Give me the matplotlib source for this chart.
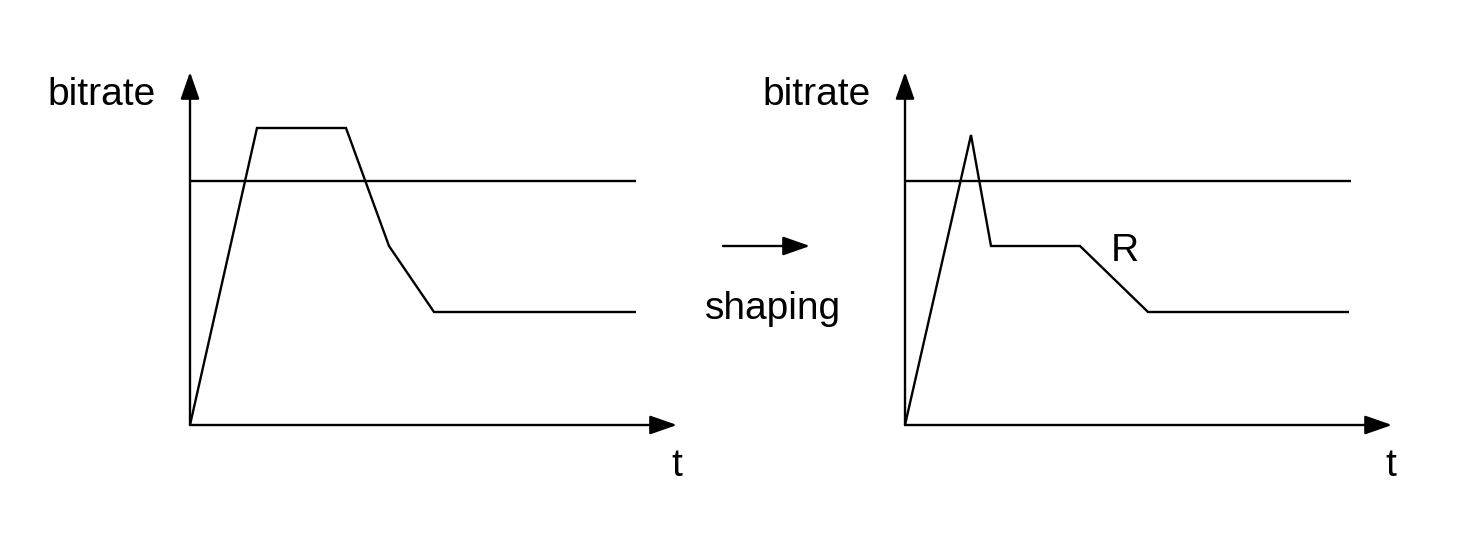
import matplotlib
matplotlib.use("Agg")
import matplotlib.pyplot as plt

# ---- data (arbitrary units) ----
left_t = [0, 6.7, 15.6, 19.9, 24.4, 44.6]
left_rate = [0, 29.7, 29.7, 17.9, 11.3, 11.3]
right_t = [0, 6.6, 8.6, 17.5, 24.3, 44.4]
right_rate = [0, 29.0, 17.9, 17.9, 11.3, 11.3]
threshold = 24.4
t_end = 44.6
x_max = 48.7
y_max = 35.3

W, H = 1482, 538
plt.rcParams['font.family'] = ['Liberation Sans', 'DejaVu Sans']
fig = plt.figure(figsize=(W / 100, H / 100), dpi=100)

LW = 1.7
FS = 28
arrow_style = '-|>,head_length=1.66,head_width=0.58'


def make_panel(x0px, t, rate):
    ax = fig.add_axes([x0px / W, (H - 425) / H, 487 / W, 353 / H])
    ax.set_xlim(0, x_max)
    ax.set_ylim(0, y_max)
    ax.axis('off')
    # axes arrows
    ax.annotate('', xy=(1, 0), xytext=(0, 0), xycoords='axes fraction',
                arrowprops=dict(arrowstyle=arrow_style, mutation_scale=10,
                                lw=LW, color='black', shrinkA=0, shrinkB=0))
    ax.annotate('', xy=(0, 1), xytext=(0, 0), xycoords='axes fraction',
                arrowprops=dict(arrowstyle=arrow_style, mutation_scale=10,
                                lw=LW, color='black', shrinkA=0, shrinkB=0))
    ax.plot([0, t_end], [threshold, threshold], color='black', lw=LW,
            clip_on=False, solid_capstyle='butt')
    ax.plot(t, rate, color='black', lw=LW, clip_on=False,
            solid_joinstyle='miter', solid_capstyle='butt')
    return ax


axL = make_panel(190, left_t, left_rate)
axR = make_panel(905, right_t, right_rate)


def ftext(xpx, ypx, s):
    fig.text(xpx / W, 1 - ypx / H, s, ha='center', va='baseline',
             fontsize=FS, color='black')


ftext(101.5, 105, 'bitrate')
ftext(816.5, 105, 'bitrate')
ftext(677, 476, 't')
ftext(1391, 476, 't')
ftext(773, 319, 'shaping')
ftext(1125, 261, 'R')

# shaping arrow
fig.add_artist(matplotlib.patches.FancyArrowPatch(
    (723 / W, 1 - 246 / H), (810 / W, 1 - 246 / H),
    transform=fig.transFigure, arrowstyle=arrow_style, mutation_scale=10,
    lw=LW, color='black', shrinkA=0, shrinkB=0))

fig.savefig('out.png', dpi=100, facecolor='white')
